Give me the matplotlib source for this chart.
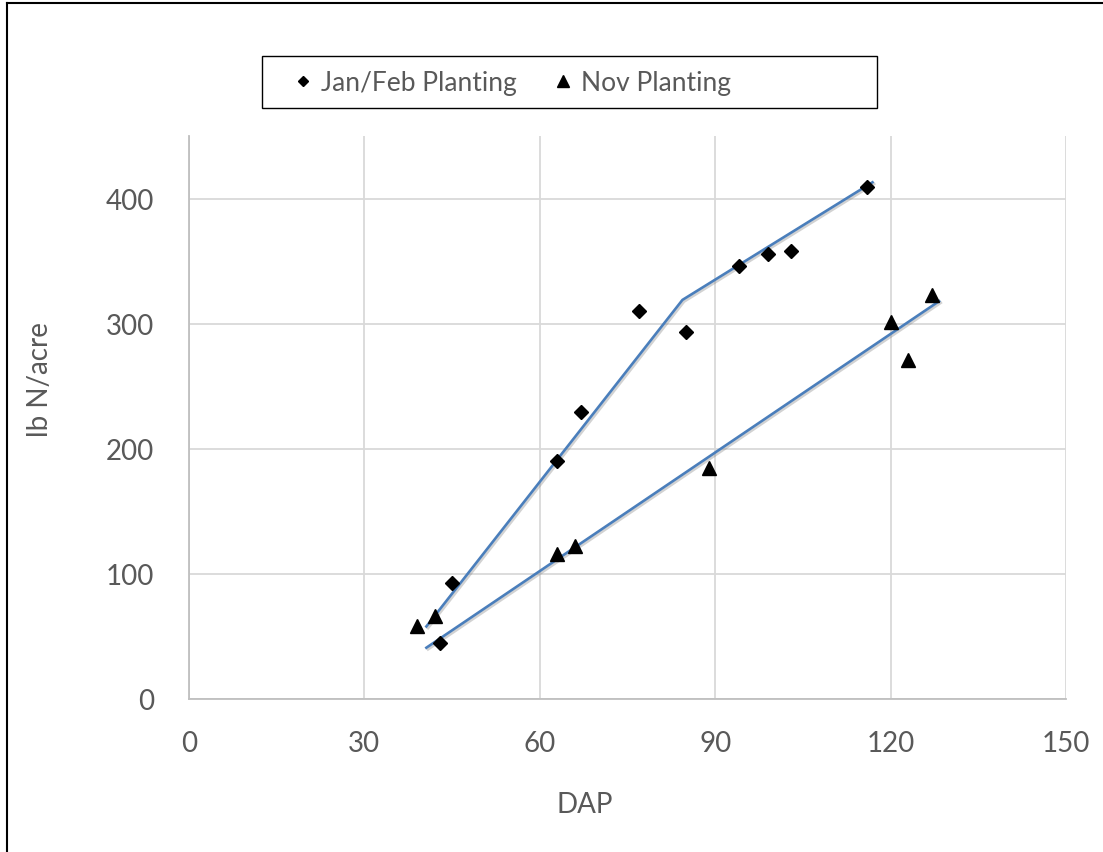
import matplotlib
matplotlib.use("Agg")
import matplotlib.pyplot as plt
import matplotlib.patheffects as pe
from matplotlib.patches import Rectangle

# Jan/Feb planting observations (DAP, lb N/acre)
janfeb_dap = [43, 45, 63, 67, 77, 85, 94, 99, 103, 116]
janfeb_n = [45, 93, 190, 229, 310, 293, 346, 356, 358, 409]

# Nov planting observations
nov_dap = [39, 42, 63, 66, 89, 120, 123, 127]
nov_n = [58, 66, 116, 122, 185, 301, 271, 323]

# fitted lines
janfeb_fit_dap = [40.6, 84.4, 116.9]
janfeb_fit_n = [58, 319, 413]
nov_fit_dap = [40.6, 128.3]
nov_fit_n = [41, 318]

x_ticks = [0, 30, 60, 90, 120, 150]
y_ticks = [0, 100, 200, 300, 400]

TEXT = "#595959"
GRID = "#d9d9d9"
BLUE = "#4a7ebb"

plt.rcParams["font.family"] = ["Lato", "DejaVu Sans"]

W, H = 1103, 853
fig = plt.figure(figsize=(W / 100, H / 100), dpi=100)
ax = fig.add_axes([189 / W, 1 - 700 / H, (1066 - 189) / W, (700 - 137) / H])

# trend lines with a soft shadow
shadow = [pe.SimpleLineShadow(offset=(1.2, -1.2), shadow_color="#7f7f7f", alpha=0.35), pe.Normal()]
ax.plot(janfeb_fit_dap, janfeb_fit_n, color=BLUE, lw=1.9, path_effects=shadow, zorder=3)
ax.plot(nov_fit_dap, nov_fit_n, color=BLUE, lw=1.9, path_effects=shadow, zorder=3)

ax.plot(janfeb_dap, janfeb_n, ls="none", marker="D", ms=6.8, color="black",
        label="Jan/Feb Planting", zorder=4)
ax.plot(nov_dap, nov_n, ls="none", marker="^", ms=9.5, color="black",
        label="Nov Planting", zorder=4)

ax.set_xlim(0, 150)
ax.set_ylim(0, 450)
ax.set_xticks(x_ticks)
ax.set_yticks(y_ticks)
ax.grid(True, color=GRID, lw=1.3)
ax.set_axisbelow(True)
for s in ["top", "right"]:
    ax.spines[s].set_visible(False)
for s in ["left", "bottom"]:
    ax.spines[s].set_color("#bfbfbf")
    ax.spines[s].set_linewidth(1.3)
ax.tick_params(length=0, labelsize=20, labelcolor=TEXT)
ax.tick_params(axis="y", pad=25)
ax.tick_params(axis="x", pad=22)

fig.text(585 / W, 1 - 805 / H, "DAP", ha="center", va="center", fontsize=20, color=TEXT)
fig.text(40 / W, 1 - 380 / H, "lb N/acre", ha="center", va="center", rotation=90,
         fontsize=20, color=TEXT)

# legend box drawn separately, entries placed inside it
fig.add_artist(Rectangle((262 / W, 1 - 109 / H), (877 - 262) / W, 52 / H,
                         transform=fig.transFigure, fill=False, ec="black", lw=1.0))
leg = ax.legend(loc="center left", bbox_to_anchor=(285 / W, 1 - 84 / H),
                bbox_transform=fig.transFigure, ncol=2, fontsize=19, frameon=False,
                handletextpad=0.0, columnspacing=1.06, borderpad=0.0,
                handlelength=1.37, borderaxespad=0.0)
for t in leg.get_texts():
    t.set_color(TEXT)
leg.legend_handles[0].set_markersize(5)
leg.legend_handles[1].set_markersize(8)

# outer frame of the chart area
fig.add_artist(plt.Line2D([7 / W, 7 / W], [0, 1 - 4 / H], transform=fig.transFigure,
                          color="black", lw=1.5))
fig.add_artist(plt.Line2D([7 / W, 1], [1 - 4 / H, 1 - 4 / H], transform=fig.transFigure,
                          color="black", lw=1.5))

fig.savefig("out.png", dpi=100)
